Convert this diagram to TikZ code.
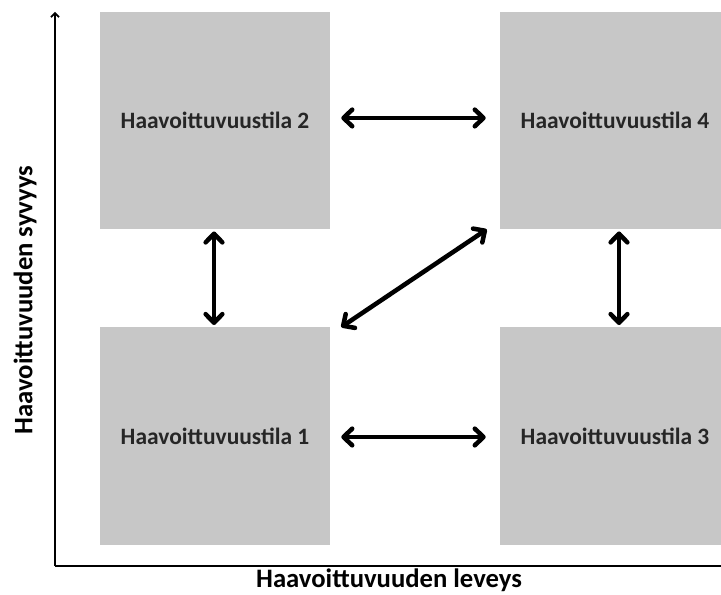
\documentclass[tikz,border=0pt]{standalone}
\usepackage{fontspec}
\setmainfont{Carlito}
\usetikzlibrary{arrows.meta,calc}

\begin{document}
\begin{tikzpicture}[x=0.75pt, y=-0.75pt,
    tila/.style={shape=rectangle, fill=black!22, text=black!85, minimum width=172.5pt, minimum height=163pt, inner sep=0pt, font=\bfseries\fontsize{17.6}{20}\selectfont},
    nuoli/.style={line width=3.4pt, {Straight Barb[round, length=6.5pt, width=12.5pt]}-{Straight Barb[round, length=6.5pt, width=12.5pt]}},
    akseli/.style={line width=1.3pt},
    akselinimi/.style={font=\bfseries\fontsize{20}{24}\selectfont}]

        \useasboundingbox (0,0) rectangle (721,595);
        \begin{scope}
            \clip (0,0) rectangle (721,595);

            \node[tila] (t2) at (215,120.5) {Haavoittuvuustila 2};
            \node[tila] (t4) at (615,120.5) {Haavoittuvuustila 4};
            \node[tila] (t1) at (215,436) {Haavoittuvuustila 1};
            \node[tila] (t3) at (615,436) {Haavoittuvuustila 3};

            \coordinate (o) at (55,566);
            \coordinate (ylos) at (55,12);
            \coordinate (oikea) at (721,566);
            \draw[akseli, -{Straight Barb[length=3pt, width=6pt]}] (o) -- (ylos);
            \draw[akseli] (o) -- (oikea);
        \end{scope}

        \draw[nuoli, shorten <=8.25pt, shorten >=10.5pt] ([yshift=1.9pt]t2.east) -- ([yshift=1.9pt]t4.west);
        \draw[nuoli, shorten <=8.25pt, shorten >=10.5pt] ([yshift=-0.75pt]t1.east) -- ([yshift=-0.75pt]t3.west);
        \draw[nuoli, shorten <=1.5pt, shorten >=1.5pt] ([xshift=-0.75pt]t2.south) -- ([xshift=-0.75pt]t1.north);
        \draw[nuoli, shorten <=1.5pt, shorten >=1.5pt] ([xshift=3pt]t4.south) -- ([xshift=3pt]t3.north);
        \draw[nuoli] ($(t1.north east)+(11,0)$) -- ($(t4.south west)+(-13,0)$);

        \node[akselinimi] (xnimi) at (389,580) {Haavoittuvuuden leveys};
        \node[akselinimi, rotate=90] (ynimi) at (25,300) {Haavoittuvuuden syvyys};

\end{tikzpicture}
\end{document}
